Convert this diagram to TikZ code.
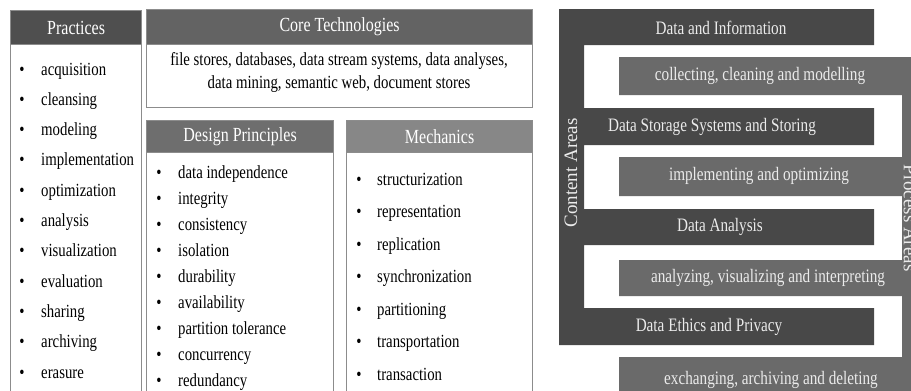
\documentclass[tikz,border=0pt]{standalone}
\usepackage{fontspec}
\setmainfont{Liberation Serif}[FakeStretch=0.8]
\newfontfamily\sidefont{Liberation Serif}
\usepackage{xcolor}
\usepackage{tikz}
\usetikzlibrary{positioning}
\definecolor{contentcolor}{RGB}{72,72,72}
\definecolor{processcolor}{RGB}{106,106,106}
\definecolor{framecolor}{RGB}{140,140,140}

\begin{document}
\begin{tikzpicture}[
    x=1pt, y=-1pt,
    box/.style={rectangle, draw=framecolor, line width=1.2pt, fill=white, anchor=north west, inner sep=0pt},
    head/.style={rectangle, draw=framecolor, line width=1.2pt, anchor=north west, inner sep=0pt, text=white, font=\fontsize{20}{22}\selectfont},
    item/.style={anchor=base west, inner sep=0pt, font=\fontsize{18.5}{20}\selectfont},
    dot/.style={anchor=base, inner sep=0pt, font=\fontsize{18.5}{20}\selectfont},
    band/.style={text=white!92!black, font=\fontsize{19}{21}\selectfont},
    side/.style={text=white!92!black, font=\sidefont\fontsize{19}{21}\selectfont}
]
\useasboundingbox (0,0) rectangle (911,391);
\clip (0,0) rectangle (911,391);

% Left column - Practices
\node[box, minimum width=131pt, minimum height=351pt] (pracbody) at (10,44) {};
\node[head, fill=black!69, minimum width=131pt, minimum height=34pt] (prachead) at (10,10) {Practices};
\foreach \t [count=\i from 0] in {acquisition, cleansing, modeling, implementation, optimization, analysis, visualization, evaluation, sharing, archiving, erasure} {
  \node[dot] (pdot\i) at (22,{75+30.3*\i}) {•};
  \node[item] (pitem\i) at (41,{75+30.3*\i}) {\t};
}

% Core Technologies
\node[box, minimum width=386pt, minimum height=63pt] (corebody) at (146,44) {};
\node[head, fill=black!61, minimum width=386pt, minimum height=35pt] (corehead) at (146,9) {Core Technologies};
\node[item, anchor=base] (coreline1) at (339,65) {file stores, databases, data stream systems, data analyses,};
\node[item, anchor=base] (coreline2) at (339,88) {data mining, semantic web, document stores};

% Design Principles
\node[box, minimum width=187pt, minimum height=243pt] (designbody) at (146,152) {};
\node[head, fill=black!57, minimum width=187pt, minimum height=32pt] (designhead) at (146,120) {Design Principles};
\foreach \t [count=\i from 0] in {data independence, integrity, consistency, isolation, durability, availability, partition tolerance, concurrency, redundancy} {
  \node[dot] (ddot\i) at (159,{178+26*\i}) {•};
  \node[item] (ditem\i) at (178,{178+26*\i}) {\t};
}

% Mechanics
\node[box, minimum width=186pt, minimum height=243pt] (mechbody) at (346,152) {};
\node[head, fill=black!47, minimum width=186pt, minimum height=32pt] (mechhead) at (346,120) {Mechanics};
\foreach \t [count=\i from 0] in {structurization, representation, replication, synchronization, partitioning, transportation, transaction} {
  \node[dot] (mdot\i) at (359,{185+32.5*\i}) {•};
  \node[item] (mitem\i) at (377,{185+32.5*\i}) {\t};
}

% Right part - Process Areas comb
\fill[processcolor] (619,57) -- (916,57) -- (916,395) -- (619,395) -- (619,357) -- (902,357) -- (902,296) -- (619,296) -- (619,260) -- (902,260) -- (902,196) -- (619,196) -- (619,157) -- (902,157) -- (902,95) -- (619,95) -- cycle;

% Right part - Content Areas comb
\fill[contentcolor] (559,9) -- (874,9) -- (874,45) -- (584,45) -- (584,108) -- (874,108) -- (874,145) -- (584,145) -- (584,209) -- (874,209) -- (874,245) -- (584,245) -- (584,308) -- (874,308) -- (874,345) -- (559,345) -- cycle;

% Labels
\node[band] (dataarea) at (721,28) {Data and Information};
\node[band] (storagearea) at (712,127) {Data Storage Systems and Storing};
\node[band] (analysisarea) at (720,227) {Data Analysis};
\node[band] (ethicsarea) at (709,327) {Data Ethics and Privacy};
\node[band] (collectproc) at (760,76) {collecting, cleaning and modelling};
\node[band] (implementproc) at (759,176) {implementing and optimizing};
\node[band] (analyzeproc) at (768,278) {analyzing, visualizing and interpreting};
\node[band] (exchangeproc) at (771,380) {exchanging, archiving and deleting};
\node[side, rotate=90] (contentlabel) at (571,173) {Content Areas};
\node[side, rotate=-90] (processlabel) at (910,218) {Process Areas};

\end{tikzpicture}
\end{document}
